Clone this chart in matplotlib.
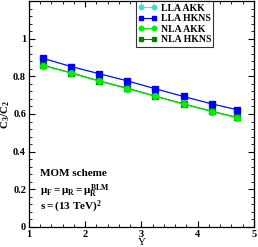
import matplotlib
matplotlib.use("Agg")
import matplotlib.pyplot as plt
from matplotlib.ticker import MultipleLocator

Y = [1.25, 1.75, 2.25, 2.75, 3.25, 3.75, 4.25, 4.7]
lla_akk = [0.895, 0.851, 0.813, 0.775, 0.733, 0.692, 0.653, 0.622]
lla_hkns = [0.896, 0.852, 0.814, 0.776, 0.734, 0.693, 0.654, 0.623]
nla_akk = [0.857, 0.817, 0.774, 0.735, 0.693, 0.652, 0.613, 0.580]
nla_hkns = [0.859, 0.819, 0.776, 0.737, 0.695, 0.654, 0.615, 0.582]

plt.rcParams['font.family'] = ['Liberation Serif', 'DejaVu Serif']
plt.rcParams['font.weight'] = 'bold'
plt.rcParams['mathtext.fontset'] = 'custom'
plt.rcParams['mathtext.rm'] = 'Liberation Serif:bold'
plt.rcParams['mathtext.it'] = 'Liberation Serif:bold'
plt.rcParams['mathtext.bf'] = 'Liberation Serif:bold'

fig = plt.figure(figsize=(2.58, 2.47), dpi=100)
ax = fig.add_axes([0.112, 0.081, 0.872, 0.915])

ms = 4
ax.plot(Y, lla_hkns, '-s', color='#0000ff', ms=ms, lw=0.8, label='LLA HKNS', zorder=2)
ax.plot(Y, lla_akk, '-o', color='#40e0d0', ms=ms, lw=0.6, label='LLA AKK', zorder=1.5)
ax.plot(Y, nla_hkns, '-s', color='#008000', ms=ms, lw=0.8, label='NLA HKNS', zorder=1.8)
ax.plot(Y, nla_akk, '-o', color='#00ee00', ms=ms, lw=0.8, label='NLA AKK', zorder=2.2)

ax.set_xlim(1, 5)
ax.set_ylim(0, 1.2)
ax.xaxis.set_major_locator(MultipleLocator(1))
ax.xaxis.set_minor_locator(MultipleLocator(0.2))
ax.yaxis.set_minor_locator(MultipleLocator(0.04))
ax.set_yticks([0, 0.2, 0.4, 0.6, 0.8, 1.0])
ax.set_yticklabels(['0', '0.2', '0.4', '0.6', '0.8', '1'])
ax.tick_params(which='both', direction='in', top=True, right=True, labelsize=7.5, pad=2)
ax.tick_params(which='major', length=4, width=0.8)
ax.tick_params(which='minor', length=2, width=0.6)
for s in ax.spines.values():
    s.set_linewidth(0.9)

ax.set_xlabel('Y', fontsize=8, labelpad=-0.5)
ax.set_ylabel(r'$\mathrm{C_3/C_2}$', fontsize=8, labelpad=1)

h, l = ax.get_legend_handles_labels()
order = [1, 0, 3, 2]
leg = ax.legend([h[i] for i in order], [l[i] for i in order], loc='upper right',
                bbox_to_anchor=(0.82, 0.998), fontsize=7, numpoints=2, markerscale=0.8,
                frameon=True, fancybox=False, edgecolor='black', handlelength=1.9,
                borderpad=0.25, labelspacing=0.15, handletextpad=0.4, borderaxespad=0)
leg.get_frame().set_linewidth(0.8)

ax.text(1.2, 0.27, 'MOM scheme', fontsize=8)
ax.text(1.2, 0.175, r'$\mu_F = \mu_R = \mu_R^{BLM}$', fontsize=8)
ax.text(1.2, 0.09, r'$s = (13\ TeV)^2$', fontsize=8)

fig.savefig('out.png', dpi=100)
